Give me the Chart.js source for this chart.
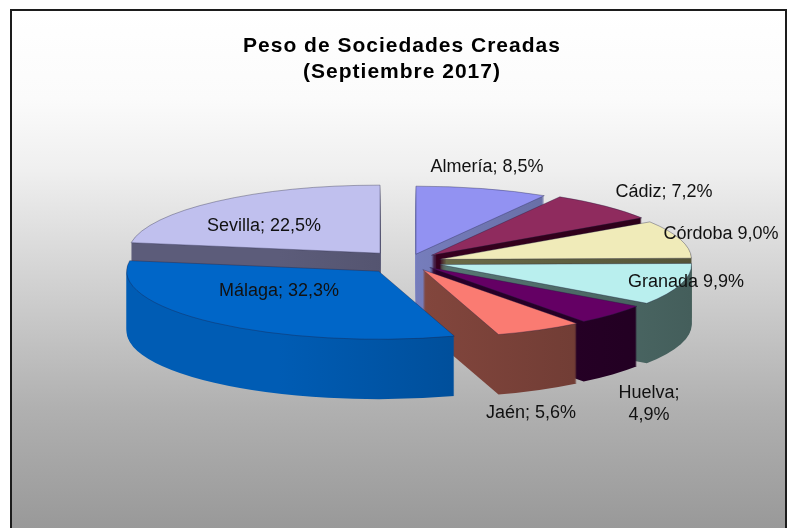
<!DOCTYPE html>
<html>
<head>
<meta charset="utf-8">
<title>Peso de Sociedades Creadas</title>
<script src="https://cdn.jsdelivr.net/npm/chart.js@4/dist/chart.umd.min.js"></script>
<style>
  html, body { margin: 0; padding: 0; background: #fff; overflow: hidden; }
  #wrap { width: 792px; height: 528px; }
</style>
</head>
<body>
<div id="wrap"><canvas id="peso" width="792" height="528"></canvas></div>
<script>
const provincias = ['Almería', 'Cádiz', 'Córdoba', 'Granada', 'Huelva', 'Jaén', 'Málaga', 'Sevilla'];
const pesos = [8.5, 7.2, 9.0, 9.9, 4.9, 5.6, 32.3, 22.5];
const etiquetas = [['Almería; 8,5%'], ['Cádiz; 7,2%'], ['Córdoba 9,0%'], ['Granada 9,9%'], ['Huelva;', '4,9%'], ['Jaén; 5,6%'], ['Málaga; 32,3%'], ['Sevilla; 22,5%']];
const coloresCara = ['#9292f2', '#8f2b5e', '#f0ebb9', '#b9efee', '#640064', '#fa7b72', '#0066c8', '#c0c0ee'];
const coloresLado = ['#8088cc', '#3c0022', '#74744e', '#5f827e', '#2e002e', '#8e4c42', '#005cb4', '#5c5c7a'];

// layout of the fake 3D pie, in canvas pixels
const centroX = 408, centroY = 262, radio = 252, aplastado = 0.27, fondo = 60;
const separacion = [30, 34, 33, 33, 30, 32, 45, 43];
const ordenDibujo = [0, 7, 1, 2, 3, 4, 5, 6];
const posEtiqueta = [[487, 167], [664, 192], [721, 234], [686, 282], [649, 393], [531, 413], [279, 291], [264, 226]];

function oscurecer(hex, f) {
  const n = parseInt(hex.slice(1), 16);
  return `rgb(${Math.round((n >> 16) * f)},${Math.round(((n >> 8) & 255) * f)},${Math.round((n & 255) * f)})`;
}

const fondoPlugin = {
  id: 'fondo',
  beforeDraw(chart) {
    const ctx = chart.ctx;
    const g = ctx.createLinearGradient(0, 10, 0, 528);
    g.addColorStop(0, '#ffffff');
    g.addColorStop(0.17, '#fbfbfb');
    g.addColorStop(0.31, '#efefef');
    g.addColorStop(0.77, '#b0b0b0');
    g.addColorStop(1, '#999999');
    ctx.save();
    ctx.fillStyle = g;
    ctx.fillRect(11, 10, 775, 518);
    ctx.strokeStyle = '#1c1c1c';
    ctx.lineWidth = 2;
    ctx.beginPath();
    ctx.moveTo(11, 530);
    ctx.lineTo(11, 10);
    ctx.lineTo(786, 10);
    ctx.lineTo(786, 530);
    ctx.stroke();
    ctx.restore();
    // the title box draws right after this, with wide lettering
    ctx.letterSpacing = '1px';
  }
};

const tartaPlugin = {
  id: 'tarta3d',
  beforeDatasetDraw(chart, args) {
    const ctx = chart.ctx;
    const arcs = args.meta.data;
    ordenDibujo.forEach(i => {
      const arc = arcs[i];
      const base = arc.options;
      const medio = (arc.startAngle + arc.endAngle) / 2;
      const dx = separacion[i] * Math.cos(medio);
      const dy = separacion[i] * aplastado * Math.sin(medio);
      const colocar = d => {
        ctx.translate(centroX + dx, centroY + dy + d);
        ctx.scale(1, aplastado);
        ctx.translate(-arc.x, -arc.y);
      };
      const grad = ctx.createLinearGradient(arc.x - radio * 0.4, 0, arc.x + radio, 0);
      grad.addColorStop(0, coloresLado[i]);
      grad.addColorStop(1, oscurecer(coloresLado[i], 0.72));
      arc.options = Object.assign({}, base, { backgroundColor: grad, borderWidth: 0 });
      for (let d = fondo; d > 0; d--) {
        ctx.save();
        colocar(d);
        arc.draw(ctx);
        ctx.restore();
      }
      arc.options = base;
      ctx.save();
      colocar(0);
      arc.draw(ctx);
      ctx.restore();
    });
    return false;
  }
};

const etiquetasPlugin = {
  id: 'etiquetas',
  afterDraw(chart) {
    const ctx = chart.ctx;
    ctx.save();
    ctx.letterSpacing = '0px';
    ctx.font = '18px "Liberation Sans"';
    ctx.fillStyle = '#111';
    ctx.textAlign = 'center';
    ctx.textBaseline = 'middle';
    etiquetas.forEach((lineas, i) => {
      lineas.forEach((t, j) => ctx.fillText(t, posEtiqueta[i][0], posEtiqueta[i][1] + j * 22));
    });
    ctx.restore();
  }
};

new Chart(document.getElementById('peso'), {
  type: 'pie',
  data: {
    labels: provincias,
    datasets: [{
      data: pesos,
      backgroundColor: coloresCara,
      borderColor: 'rgba(30,30,60,0.55)',
      borderWidth: 1,
      clip: false
    }]
  },
  options: {
    responsive: false,
    animation: false,
    radius: radio,
    layout: { padding: { left: 12 } },
    plugins: {
      legend: { display: false },
      tooltip: { enabled: false },
      title: {
        display: true,
        text: ['Peso de Sociedades Creadas', '(Septiembre 2017)'],
        color: '#000',
        font: { family: '"Liberation Sans"', size: 21, weight: 'bold', lineHeight: 1.2 },
        padding: { top: 34, bottom: 10 }
      }
    }
  },
  plugins: [fondoPlugin, tartaPlugin, etiquetasPlugin]
});
</script>
</body>
</html>
